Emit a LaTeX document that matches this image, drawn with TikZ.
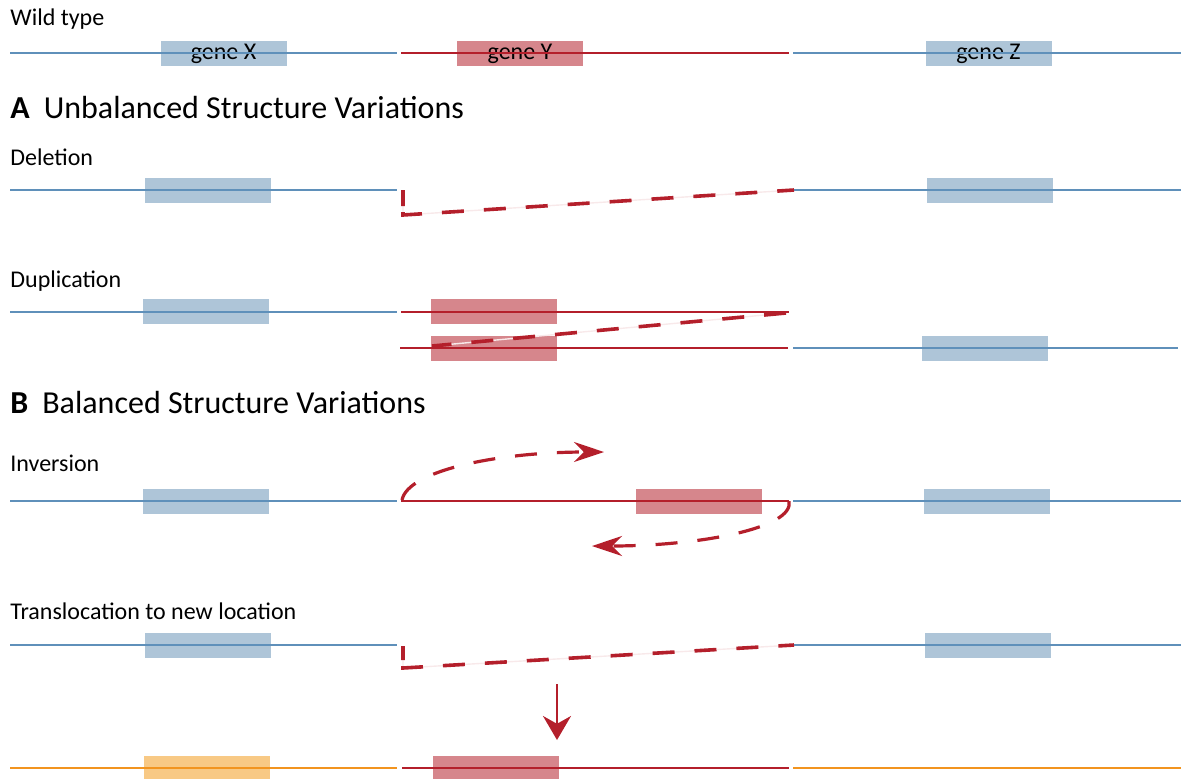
\documentclass[tikz,border=0pt]{standalone}
\usepackage{fontspec}
\setmainfont{Carlito}
\usetikzlibrary{arrows.meta}

\definecolor{chromblue}{HTML}{5F90BA}
\definecolor{geneblue}{HTML}{AEC5D8}
\definecolor{chromred}{HTML}{B41F2B}
\definecolor{genered}{HTML}{D6868C}
\definecolor{chromorange}{HTML}{F2941F}
\definecolor{geneorange}{HTML}{F8C985}
\definecolor{palepink}{HTML}{F8E9EA}

\tikzset{
  gene/.style={rectangle, inner sep=0pt, minimum width=63pt, minimum height=12.5pt,
    font=\fontsize{12}{14}\selectfont},
  bluegene/.style={gene, fill=geneblue},
  redgene/.style={gene, fill=genered},
  orangegene/.style={gene, fill=geneorange},
  chrom/.style={line width=1.3pt},
  lost/.style={chromred, line width=1.8pt, dash pattern=on 11pt off 10pt},
  ghost/.style={palepink, line width=0.7pt},
  rowlabel/.style={anchor=base west, inner sep=0pt, font=\fontsize{12}{14}\selectfont},
  heading/.style={anchor=base west, inner sep=0pt, font=\fontsize{16}{19}\selectfont}
}

\begin{document}
\begin{tikzpicture}[x=0.5pt, y=-0.5pt]
	\useasboundingbox (0,0) rectangle (1183,778);

	% Wild type.
	\node[rowlabel] (wt) at (10,25) {Wild type};
	\node[bluegene] (gX) at (223.5,53.5) {gene X};
	\node[redgene] (gY) at (520,53.5) {gene Y};
	\node[bluegene] (gZ) at (988.5,53.5) {gene Z};
	\draw[chrom, chromblue] (10,53) -- (397,53);
	\draw[chrom, chromred] (401,53) -- (789,53);
	\draw[chrom, chromblue] (793,53) -- (1181,53);

	% A: unbalanced.
	\node[heading] (hA) at (10,118) {\textbf{A}\hspace{7pt}Unbalanced Structure Variations};

	% Deletion.
	\node[rowlabel] (del) at (10,165) {Deletion};
	\node[bluegene] (delX) at (207.5,190.5) {};
	\node[bluegene] (delZ) at (989.5,190.5) {};
	\draw[chrom, chromblue] (10,190) -- (397,190);
	\draw[chrom, chromblue] (793,190) -- (1181,190);
	\draw[ghost] (403,190) -- (403,215) -- (794,190);
	\draw[lost, dash pattern=on 8pt off 3pt on 11pt off 10pt on 11pt off 10pt on 11pt off 10pt on 11pt off 10pt on 11pt off 10pt on 11pt off 10pt on 11pt off 10pt on 11pt off 10pt on 11pt off 10pt on 11pt off 10pt]
		(403,190) -- (403,215) -- (794,190);

	% Duplication.
	\node[rowlabel] (dup) at (10,287) {Duplication};
	\node[bluegene] (dupX) at (206,311.5) {};
	\node[redgene] (dupY) at (494,311.5) {};
	\node[redgene] (dupY2) at (494,348.5) {};
	\node[bluegene] (dupZ) at (984.5,348) {};
	\draw[chrom, chromblue] (10,312) -- (397,312);
	\draw[chrom, chromred] (401,312) -- (789,312);
	\draw[chrom, chromred] (400,348) -- (788,348);
	\draw[chrom, chromblue] (793,348) -- (1178,348);
	\draw[ghost] (786,313) -- (432,346);
	\draw[lost] (786,313) -- (432,346);

	% B: balanced.
	\node[heading] (hB) at (10,413) {\textbf{B}\hspace{7pt}Balanced Structure Variations};

	% Inversion.
	\node[rowlabel] (inv) at (10,471) {Inversion};
	\node[bluegene] (invX) at (206,501.5) {};
	\node[redgene] (invY) at (699,501.5) {};
	\node[bluegene] (invZ) at (986.5,501.5) {};
	\draw[chrom, chromblue] (10,501) -- (397,501);
	\draw[chrom, chromred] (401,501) -- (789,501);
	\draw[chrom, chromblue] (793,501) -- (1181,501);
	\draw[chromred, line width=1.6pt, dash pattern=on 11pt off 10pt, -{Stealth[length=15pt, width=10pt]}]
		(402,500) .. controls (408,470) and (500,452) .. (604,452);
	\draw[chromred, line width=1.6pt, dash pattern=on 11pt off 10pt, -{Stealth[length=15pt, width=10pt]}]
		(789,501) .. controls (795,528) and (700,546) .. (592,546);

	% Translocation.
	\node[rowlabel] (trans) at (10,619) {Translocation to new location};
	\node[bluegene] (trX) at (207.5,645.5) {};
	\node[bluegene] (trZ) at (987.5,645.5) {};
	\draw[chrom, chromblue] (10,645) -- (397,645);
	\draw[chrom, chromblue] (793,645) -- (1181,645);
	\draw[ghost] (403,646) -- (403,668) -- (794,645);
	\draw[lost, dash pattern=on 7pt off 3pt on 11pt off 10pt on 11pt off 10pt on 11pt off 10pt on 11pt off 10pt on 11pt off 10pt on 11pt off 10pt on 11pt off 10pt on 11pt off 10pt on 11pt off 10pt on 11pt off 10pt]
		(403,646) -- (403,668) -- (794,645);
	\draw[chromred, line width=1.3pt, -{Stealth[length=12pt, width=14pt]}] (557,684) -- (557,740);

	% New location.
	\node[orangegene] (newX) at (207,768.5) {};
	\node[redgene] (newY) at (496,768.5) {};
	\draw[chrom, chromorange] (10,768) -- (397,768);
	\draw[chrom, chromred] (402,768) -- (789,768);
	\draw[chrom, chromorange] (793,768) -- (1181,768);
\end{tikzpicture}
\end{document}
